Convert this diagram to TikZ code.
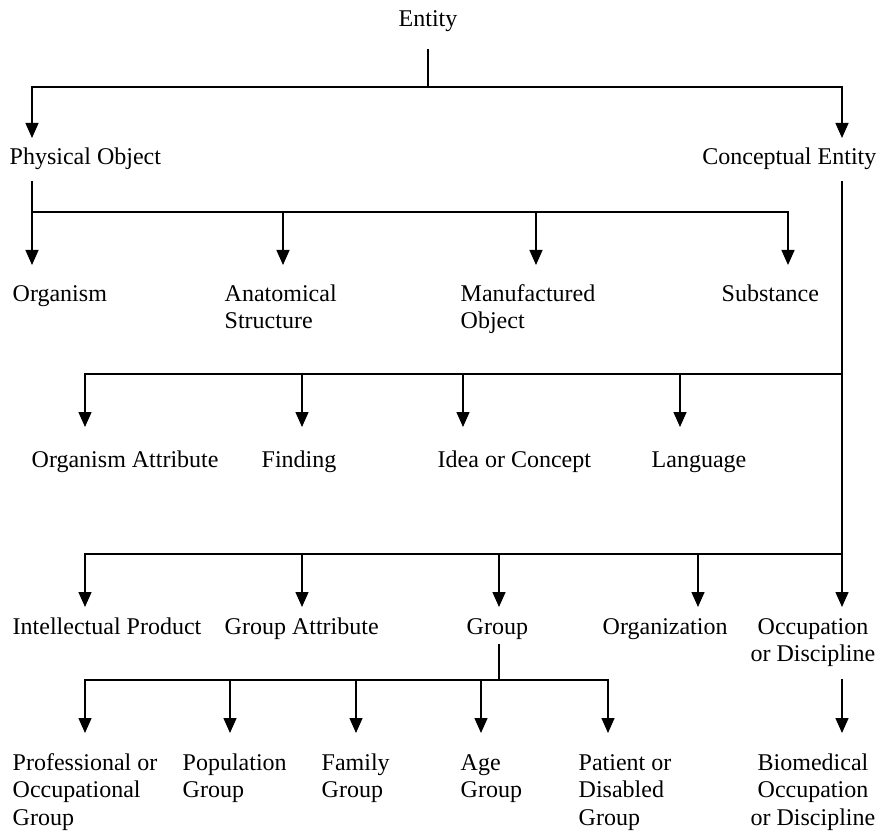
\documentclass[tikz,border=0pt]{standalone}
\usepackage{fontspec}
\setmainfont{Liberation Serif}
\usetikzlibrary{arrows.meta}

\begin{document}
\begin{tikzpicture}[x=1pt,y=-1pt,line width=1.4pt,->,>={Triangle[width=13pt,length=15pt]},
	every node/.style={font=\fontsize{24}{27.5}\selectfont,inner sep=0pt,align=left}]
	\useasboundingbox (0,0) rectangle (880,834);

	% text nodes (base = last line)
	\node[anchor=base]       (ent)  at (428,27)  {Entity};
	\node[anchor=base west]  (phys) at (9,165)   {Physical Object};
	\node[anchor=base east]  (conc) at (877,165) {Conceptual Entity};

	\node[anchor=base west]  (orgm) at (12,301)    {Organism};
	\node[anchor=base west]  (anat) at (224,328.5) {Anatomical\\Structure};
	\node[anchor=base west]  (manu) at (460,328.5) {Manufactured\\Object};
	\node[anchor=base west]  (subs) at (721,301)   {Substance};

	\node[anchor=base west]  (oatt) at (31,467)  {Organism Attribute};
	\node[anchor=base west]  (find) at (261,467) {Finding};
	\node[anchor=base west]  (idea) at (437,467) {Idea or Concept};
	\node[anchor=base west]  (lang) at (651,467) {Language};

	\node[anchor=base west]  (intp) at (12,634)  {Intellectual Product};
	\node[anchor=base west]  (gatt) at (224,634) {Group Attribute};
	\node[anchor=base west]  (grp)  at (466,634) {Group};
	\node[anchor=base west]  (orgz) at (602,634) {Organization};
	\node[anchor=base,align=center] (occ) at (813,661.5) {Occupation\\or Discipline};

	\node[anchor=base west]  (prof) at (12,825)    {Professional or\\Occupational\\Group};
	\node[anchor=base west]  (popg) at (182,797.5) {Population\\Group};
	\node[anchor=base west]  (famg) at (321,797.5) {Family\\Group};
	\node[anchor=base west]  (ageg) at (460,797.5) {Age\\Group};
	\node[anchor=base west]  (patg) at (578,825)   {Patient or\\Disabled\\Group};
	\node[anchor=base,align=center] (bio) at (813,825) {Biomedical\\Occupation\\or Discipline};

	% junctions
	\coordinate (j0) at (428,87);
	\coordinate (j1) at (32,212);
	\coordinate (j2) at (842,374);
	\coordinate (j3) at (842,554);
	\coordinate (j4) at (499,680);

	% arrow tips
	\coordinate (phys-in) at (32,138);
	\coordinate (conc-in) at (842,138);
	\foreach \x/\n in {32/orgm,283/anat,536/manu,788/subs}
		\coordinate (\n-in) at (\x,265);
	\foreach \x/\n in {85/oatt,302/find,463/idea,680/lang}
		\coordinate (\n-in) at (\x,427);
	\foreach \x/\n in {85/intp,302/gatt,499/grp,698/orgz,842/occ}
		\coordinate (\n-in) at (\x,607);
	\foreach \x/\n in {85/prof,230/popg,356/famg,481/ageg,608/patg,842/bio}
		\coordinate (\n-in) at (\x,733);

	% connectors
	\draw[-,shorten <=16pt] (ent) -- (j0);
	\draw (j0) -| (phys-in);
	\draw (j0) -| (conc-in);

	\draw[-,shorten <=10pt] (phys.south -| j1) -- (j1);
	\foreach \n in {orgm,anat,manu,subs}
		\draw (j1) -| (\n-in);

	\draw[-,shorten <=10pt] (conc.south -| j2) -- (j3);
	\foreach \n in {oatt,find,idea,lang}
		\draw (j2) -| (\n-in);
	\foreach \n in {intp,gatt,grp,orgz,occ}
		\draw (j3) -| (\n-in);

	\draw[-,shorten <=4pt] (grp.south -| j4) -- (j4);
	\foreach \n in {prof,popg,famg,ageg,patg}
		\draw (j4) -| (\n-in);
	\draw[shorten <=12pt] (occ.south -| bio-in) -- (bio-in);
\end{tikzpicture}
\end{document}
